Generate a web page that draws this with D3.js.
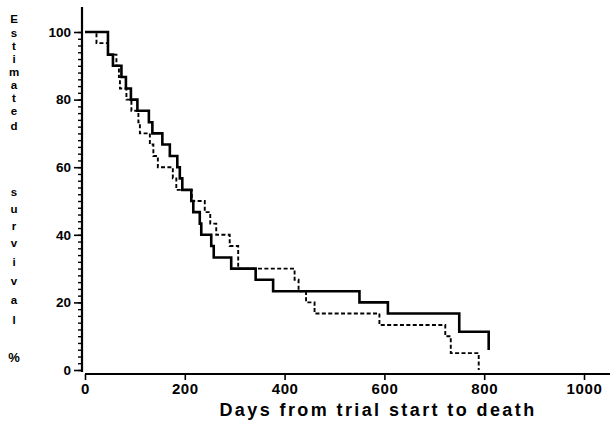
<!DOCTYPE html>
<html>
<head>
<meta charset="UTF-8">
<title>survival</title>
<script src="https://cdn.jsdelivr.net/npm/d3@7"></script>
<style>
  body { margin: 0; background: #fff; }
  text { font-family: "Liberation Sans", Arial, sans-serif; font-weight: bold; fill: #000; }
</style>
</head>
<body>
<svg id="chart" width="610" height="425"></svg>
<script>
// step points: [day, estimated survival % after the drop]
const solidSteps = [
  [0, 100], [46, 93.3], [56, 90], [73, 86.7], [82, 83.3], [92, 80], [105, 76.7],
  [128, 73.3], [135, 70], [155, 66.7], [170, 63.3], [185, 60], [190, 56.7], [195, 53.3],
  [213, 50], [217, 46.7], [230, 43.3], [233, 40], [253, 36.7], [258, 33.3], [293, 30],
  [342, 26.7], [377, 23.3], [550, 20], [607, 16.7], [750, 11.3], [809, 5.9]
];
const dashedSteps = [
  [0, 100], [23, 96.7], [46, 93.3], [63, 90], [68, 86.7], [70, 83.3], [83, 80], [93, 76.7],
  [107, 73.3], [110, 70], [130, 66.7], [137, 63.3], [146, 60], [176, 56.7], [183, 53.3],
  [214, 50], [240, 46.7], [251, 43.3], [263, 40], [290, 36.7], [307, 30], [420, 26.7],
  [428, 23.3], [443, 20], [460, 16.7], [590, 13.3], [722, 10], [733, 5], [789, 0]
];
const xTicks = [0, 200, 400, 600, 800, 1000];
const yTicks = [0, 20, 40, 60, 80, 100];
const yTitle = ["E", "s", "t", "i", "m", "a", "t", "e", "d", "s", "u", "r", "v", "i", "v", "a", "l", "%"];
const yTitlePos = [19, 33, 46, 59, 72, 85, 98, 111, 126, 192, 209, 226, 243, 262, 281, 300, 320, 357];

const svg = d3.select("#chart");

const x = d3.scaleLinear().domain([0, 1000]).range([85, 584]);
const y = d3.scaleLinear().domain([0, 100]).range([370, 32]);

// y axis: vertical line, minor ticks every 2, major every 20
svg.append("line")
  .attr("x1", 82).attr("x2", 82).attr("y1", 7).attr("y2", 372)
  .attr("stroke", "#000").attr("stroke-width", 2.2);

const yMinor = svg.append("g").attr("transform", "translate(82,0)")
  .call(d3.axisLeft(y).tickValues(d3.range(0, 101, 2)).tickSize(4).tickFormat(""));
yMinor.select(".domain").remove();
yMinor.selectAll("line").attr("stroke-width", 1.4);

const yMajor = svg.append("g").attr("transform", "translate(82,0)")
  .call(d3.axisLeft(y).tickValues(yTicks).tickSize(8).tickPadding(3));
yMajor.select(".domain").remove();
yMajor.selectAll("line").attr("stroke-width", 1.6);
yMajor.selectAll("text")
  .style("font-family", "'Liberation Sans', Arial, sans-serif")
  .style("font-weight", "bold")
  .style("font-size", "13.5px");

// x axis
svg.append("line")
  .attr("x1", 85).attr("x2", 610).attr("y1", 374).attr("y2", 374)
  .attr("stroke", "#000").attr("stroke-width", 2.2);

const xAxis = svg.append("g").attr("transform", "translate(0,374)")
  .call(d3.axisBottom(x).tickValues(xTicks).tickSize(6).tickPadding(3).tickFormat(d3.format("d")));
xAxis.select(".domain").remove();
xAxis.selectAll("line").attr("stroke-width", 1.6);
xAxis.selectAll("text")
  .style("font-family", "'Liberation Sans', Arial, sans-serif")
  .style("font-weight", "bold")
  .style("font-size", "15px")
  .style("letter-spacing", "0.6px");

// titles
svg.append("text")
  .attr("x", 378).attr("y", 416)
  .attr("text-anchor", "middle")
  .style("font-size", "18px")
  .style("letter-spacing", "2.4px")
  .text("Days from trial start to death");

svg.append("g").selectAll("text")
  .data(yTitle)
  .join("text")
  .attr("x", 14)
  .attr("y", (d, i) => yTitlePos[i])
  .attr("text-anchor", "middle")
  .attr("dominant-baseline", "central")
  .style("font-size", (d) => d === "%" ? "13px" : "11.5px")
  .text(d => d);

// survival curves
const line = d3.line()
  .x(d => x(d[0]))
  .y(d => y(d[1]))
  .curve(d3.curveStepAfter);

svg.append("path")
  .attr("d", line(dashedSteps))
  .attr("fill", "none")
  .attr("stroke", "#000")
  .attr("stroke-width", 1.9)
  .attr("stroke-dasharray", "4,2.4");

svg.append("path")
  .attr("d", line(solidSteps))
  .attr("fill", "none")
  .attr("stroke", "#000")
  .attr("stroke-width", 2.6);
</script>
</body>
</html>
